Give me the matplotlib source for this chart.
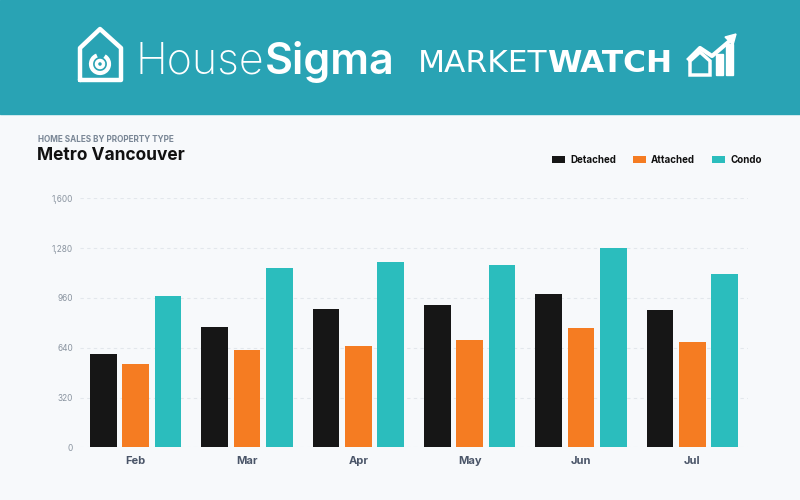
import matplotlib.pyplot as plt
import numpy as np
from matplotlib.patches import Rectangle, FancyBboxPatch, Arc, Polygon
from matplotlib.ticker import FuncFormatter

months = ['Feb', 'Mar', 'Apr', 'May', 'Jun', 'Jul']
detached = [598, 775, 887, 915, 987, 880]
attached = [533, 623, 649, 688, 767, 675]
condo = [972, 1154, 1191, 1170, 1281, 1112]
series_names = ['Detached', 'Attached', 'Condo']
colors = ['#161616', '#F57C22', '#2BBDBD']

teal = '#29A3B4'
bg = '#F7F9FB'
plt.rcParams['font.family'] = ['Inter', 'DejaVu Sans']

fig = plt.figure(figsize=(8, 5), dpi=100)
fig.patch.set_facecolor(bg)

# overlay in pixel coordinates for the banner
ov = fig.add_axes([0, 0, 1, 1])
ov.set_xlim(0, 800)
ov.set_ylim(500, 0)
ov.axis('off')
ov.add_patch(Rectangle((0, 0), 800, 114, color=teal, zorder=0))

# house icon
w = 'white'
ov.plot([80, 80, 100, 121, 121, 80], [80, 48, 29, 48, 80, 80], color=w, lw=3.2,
        solid_joinstyle='round', solid_capstyle='round')
ov.add_patch(Arc((100, 64), 18, 18, theta1=-60, theta2=250, color=w, lw=3))
ov.add_patch(Arc((100, 64), 7, 7, theta1=0, theta2=360, color=w, lw=2.5))

t1 = ov.text(136, 62, 'House', color=w, fontsize=31, fontweight='light', va='center', ha='left')
ov.annotate('Sigma', xy=(1, 0.5), xycoords=t1, va='center', ha='left',
            color=w, fontsize=31, fontweight='semibold')
t2 = ov.text(418, 63, 'MARKET', color=w, fontsize=22.5, fontweight='normal', va='center',
             ha='left', family='DejaVu Sans')
ov.annotate('WATCH', xy=(1, 0.5), xycoords=t2, va='center', ha='left',
            color=w, fontsize=22.5, fontweight='bold', family='DejaVu Sans')

# growth icon
for x0, top in [(716, 54), (726, 44)]:
    ov.add_patch(Rectangle((x0, top), 7, 75 - top, color=w))
ov.add_patch(Polygon([[690, 75], [690, 61], [700, 52], [710, 61], [710, 75]],
                     closed=True, fill=False, ec=w, lw=2.5))
ov.plot([689, 700, 712, 732], [59, 48, 56, 39], color=w, lw=3)
ov.add_patch(Polygon([[736, 34], [725, 37], [733, 45]], closed=True, color=w))

# titles
ov.text(38, 140, 'HOME SALES BY PROPERTY TYPE', color='#7A8796', fontsize=5.9,
        fontweight='bold', va='center', ha='left')
ov.text(37, 156, 'Metro Vancouver', color='#111111', fontsize=12.5,
        fontweight='bold', va='center', ha='left')

# chart
ax = fig.add_axes([0.1, 0.1054, 0.835, 0.498])
ax.set_facecolor('none')
x = np.arange(len(months))
width = 0.24
step = 0.29
for i, (vals, name, c) in enumerate(zip([detached, attached, condo], series_names, colors)):
    ax.bar(x + (i - 1) * step, vals, width, color=c, label=name, zorder=3)

ax.set_xlim(-0.5, 5.5)
ax.set_ylim(0, 1600)
ax.set_yticks(np.arange(0, 1601, 320))
ax.yaxis.set_major_formatter(FuncFormatter(lambda v, p: f'{int(v):,}'))
ax.grid(axis='y', color='#E3E7EC', linestyle=(0, (3, 3)), linewidth=0.8, zorder=0)
for s in ax.spines.values():
    s.set_visible(False)
ax.tick_params(axis='both', length=0)
ax.tick_params(axis='y', labelsize=6, labelcolor='#8A94A0', pad=5)
ax.set_xticks(x)
ax.set_xticklabels(months, fontsize=8, fontweight='bold', color='#4A5568')
ax.tick_params(axis='x', pad=6)

leg = ax.legend(loc='center right', bbox_to_anchor=(0.963, 0.68), bbox_transform=fig.transFigure,
                ncol=3, frameon=False, fontsize=7, handlelength=1.4, handleheight=0.8,
                columnspacing=1.7, handletextpad=0.5)
for t in leg.get_texts():
    t.set_fontweight('bold')
    t.set_color('#111111')

fig.savefig('out.png', dpi=100, facecolor=bg)
